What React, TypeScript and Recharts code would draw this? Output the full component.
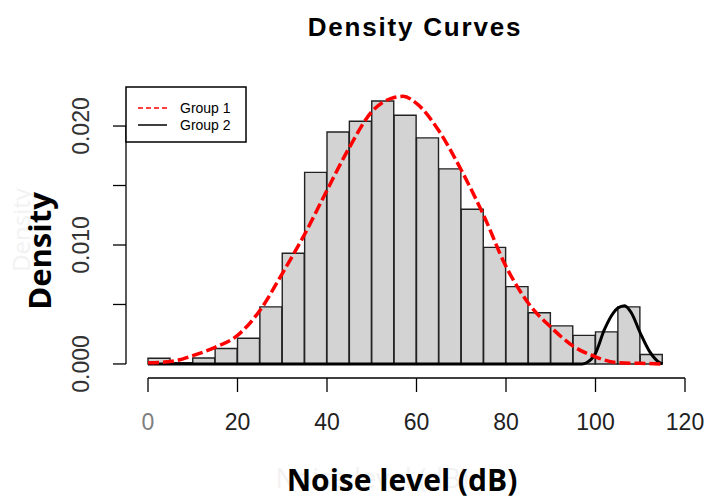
import React from "react";
import { Bar, ComposedChart, Line, XAxis, YAxis } from "recharts";

// histogram bins (start of each 5 dB bin) and their density
const binStarts = [0, 5, 10, 15, 20, 25, 30, 35, 40, 45, 50, 55, 60, 65, 70, 75, 80, 85, 90, 95, 100, 105, 110, 115];
const binDensity = [
  0.00048, 0.0001, 0.0005, 0.0013, 0.00216, 0.0048, 0.0093, 0.0161, 0.0195, 0.0204, 0.0221, 0.0209,
  0.019, 0.0164, 0.013, 0.0098, 0.0065, 0.0043, 0.0032, 0.0024, 0.0027, 0.0048, 0.0008, null,
];

// Group 1 density curve
const group1X = [0, 5, 10, 15, 20, 25, 30, 35, 40, 45, 50, 55, 57, 60, 65, 70, 75, 80, 85, 90, 95, 100, 105, 110, 115];
const group1Y = [
  0.0001, 0.0002, 0.0007, 0.0014, 0.0024, 0.0045, 0.0076, 0.0109, 0.0146, 0.0182, 0.0212, 0.0224, 0.0225,
  0.0219, 0.0196, 0.0163, 0.0125, 0.0082, 0.0051, 0.0031, 0.0015, 0.0006, 0.0001, 0.00005, 0,
];

// Group 2 density curve
const group2X = [0, 50, 95, 97, 98, 100, 102, 104, 105, 106.5, 108, 110, 112, 114, 115];
const group2Y = [0, 0, 0, 0, 0.0001, 0.0009, 0.0029, 0.0043, 0.0047, 0.0049, 0.0043, 0.0026, 0.0011, 0.0002, 0];

const xTicks = [0, 20, 40, 60, 80, 100, 120];
const yTicks = [0, 0.005, 0.01, 0.015, 0.02];
const yTickLabels = ["0.000", "", "0.010", "", "0.020"];

const legendItems = [
  { label: "Group 1", color: "#ff0000", dash: "5 3" },
  { label: "Group 2", color: "#000000", dash: undefined },
];

const binData = binStarts.map((b, i) => ({ bin: String(b), density: binDensity[i] }));
const g1Data = group1X.map((x, i) => ({ x, d: group1Y[i] }));
const g2Data = group2X.map((x, i) => ({ x, d: group2Y[i] }));

const W = 707;
const H = 500;
const MARGIN = { top: 60, right: 22, bottom: 62, left: 48 };
const Y_AXIS_W = 100;
const X_AXIS_H = 60;
const Y_DOMAIN: [number, number] = [-0.00118, 0.02555];
const PLOT_H = H - MARGIN.top - MARGIN.bottom - X_AXIS_H;
const PX_PER_Y = PLOT_H / (Y_DOMAIN[1] - Y_DOMAIN[0]);

const tickFont = "'Liberation Sans', Arial, sans-serif";

function XTick(props: any) {
  const { x, y, payload } = props;
  return (
    <g>
      <line x1={x} x2={x} y1={y} y2={y + 14} stroke="#000" strokeWidth={1.3} />
      <text
        x={x}
        y={y + 52}
        textAnchor="middle"
        fontFamily={tickFont}
        fontSize={23}
        fill={payload.value === 0 ? "#808080" : "#222"}
      >
        {payload.value}
      </text>
    </g>
  );
}

function YTick(props: any) {
  const { x, y, index } = props;
  const label = yTickLabels[index];
  const gap = 0.005 * PX_PER_Y;
  const ax = x - 22;
  return (
    <g>
      <line x1={ax} x2={ax - 13} y1={y} y2={y} stroke="#000" strokeWidth={1.3} />
      {index < yTicks.length - 1 && <line x1={ax} x2={ax} y1={y} y2={y - gap} stroke="#000" strokeWidth={1.3} />}
      {label && (
        <text
          transform={`translate(${x - 67},${y}) rotate(-90)`}
          dy="0.36em"
          textAnchor="middle"
          fontFamily={tickFont}
          fontSize={23}
          fill="#333"
        >
          {label}
        </text>
      )}
    </g>
  );
}

export default function App() {
  return (
    <div style={{ position: "absolute", left: 0, top: 0, width: W, height: H, background: "#fff" }}>
      <ComposedChart width={W} height={H} data={binData} margin={MARGIN} barCategoryGap={0} barGap={0}>
        <XAxis xAxisId="bins" dataKey="bin" type="category" hide height={0} />
        <XAxis
          xAxisId="num"
          dataKey="x"
          type="number"
          domain={[0, 120]}
          ticks={xTicks}
          allowDataOverflow
          height={X_AXIS_H}
          axisLine={{ stroke: "#000", strokeWidth: 1.3 }}
          tickLine={false}
          tickSize={0}
          tickMargin={0}
          tick={<XTick />}
        />
        <YAxis
          domain={Y_DOMAIN}
          ticks={yTicks}
          allowDataOverflow
          width={Y_AXIS_W}
          axisLine={false}
          tickLine={false}
          tickSize={0}
          tickMargin={0}
          tick={<YTick />}
        />
        <Bar
          xAxisId="bins"
          dataKey="density"
          fill="#d3d3d3"
          stroke="#222"
          strokeWidth={1.4}
          isAnimationActive={false}
        />
        <Line
          xAxisId="num"
          data={g2Data}
          dataKey="d"
          type="monotone"
          stroke="#000"
          strokeWidth={3}
          dot={false}
          isAnimationActive={false}
        />
        <Line
          xAxisId="num"
          data={g1Data}
          dataKey="d"
          type="monotone"
          stroke="#ff0000"
          strokeWidth={3.5}
          strokeDasharray="11 4"
          dot={false}
          isAnimationActive={false}
        />
      </ComposedChart>
      <svg
        width={W}
        height={H}
        style={{ position: "absolute", left: 0, top: 0, pointerEvents: "none" }}
      >
        <text
          x={415}
          y={36}
          textAnchor="middle"
          fontFamily={tickFont}
          fontWeight="bold"
          fontSize={26}
          letterSpacing={1.8}
          fill="#000"
        >
          Density Curves
        </text>
        <text
          transform="translate(21,230) rotate(-90)"
          dy="0.36em"
          textAnchor="middle"
          fontFamily="'Open Sans', sans-serif"
          fontSize={24}
          fill="#f2f2f2"
        >
          Density
        </text>
        <text
          transform="translate(40,251) rotate(-90)"
          dy="0.36em"
          textAnchor="middle"
          fontFamily="'Open Sans', sans-serif"
          fontWeight="bold"
          fontSize={31}
          fill="#000"
        >
          Density
        </text>
        <text x={372} y={488} textAnchor="middle" fontFamily="'Open Sans', sans-serif" fontSize={27} fill="#f2f2f2">
          Noise level (dB)
        </text>
        <text
          x={402}
          y={491}
          textAnchor="middle"
          fontFamily="'Open Sans', sans-serif"
          fontWeight="bold"
          fontSize={30}
          fill="#000"
        >
          Noise level (dB)
        </text>
        <g>
          <rect x={126} y={87} width={120} height={55} fill="#fff" stroke="#000" strokeWidth={1.5} />
          {legendItems.map((item, i) => (
            <g key={item.label}>
              <line
                x1={138}
                x2={167}
                y1={108 + i * 17}
                y2={108 + i * 17}
                stroke={item.color}
                strokeWidth={1.5}
                strokeDasharray={item.dash}
              />
              <text x={180} y={113 + i * 17} fontFamily={tickFont} fontSize={14} fill="#000">
                {item.label}
              </text>
            </g>
          ))}
        </g>
      </svg>
    </div>
  );
}
